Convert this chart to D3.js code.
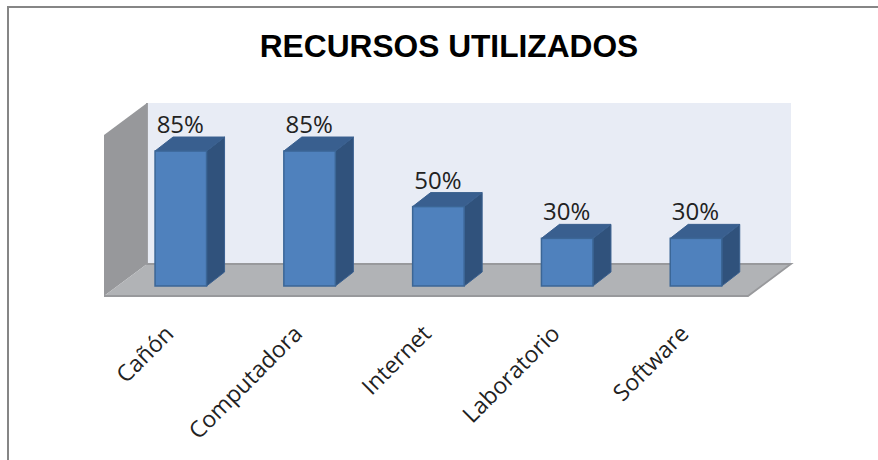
<!DOCTYPE html>
<html>
<head>
<meta charset="utf-8">
<script src="https://cdn.jsdelivr.net/npm/d3@7"></script>
<style>
html,body{margin:0;padding:0;background:#fff;}
svg{display:block;}
</style>
</head>
<body>
<svg id="c" width="878" height="460"></svg>
<script>
const categories = ["Cañón","Computadora","Internet","Laboratorio","Software"];
const values = [85,85,50,30,30];
const valueLabels = ["85%","85%","50%","30%","30%"];
const chartTitle = "RECURSOS UTILIZADOS";

const svg = d3.select("#c");
const W = 878, H = 460;
const depthX = 43, depthY = 32;        // full depth of the floor
const barDX = 18, barDY = 14;          // depth of a bar
const floorFrontY = 296, floorLeft = 104, floorRight = 748;

const x = d3.scaleBand().domain(categories).range([floorLeft+12.4, floorRight+12.4]).paddingInner(0.6).paddingOuter(0.3);
const y = d3.scaleLinear().domain([0,100]).range([286,127.2]);
const poly = (pts) => d3.line()(pts) + "Z";

// frame
svg.append("path").attr("d", d3.line()([[8,H],[8,7],[W,7]]))
  .attr("fill","none").attr("stroke","#868686").attr("stroke-width",2);

// back wall
svg.append("rect").attr("x",floorLeft+depthX).attr("y",103)
  .attr("width",floorRight-floorLeft).attr("height",floorFrontY-depthY-103)
  .attr("fill","#e8ecf5");

// left wall
svg.append("path").attr("d",poly([[floorLeft,135],[floorLeft+depthX,103],[floorLeft+depthX,floorFrontY-depthY],[floorLeft,floorFrontY]]))
  .attr("fill", "#97989b");

// floor
svg.append("path").attr("d",poly([[floorLeft,floorFrontY],[floorLeft+depthX,floorFrontY-depthY],[floorRight+depthX,floorFrontY-depthY],[floorRight,floorFrontY]]))
  .attr("fill","#b1b3b6");
svg.append("path").attr("d",d3.line()([[floorLeft+depthX,103],[floorLeft+depthX,floorFrontY-depthY],[floorRight+depthX,floorFrontY-depthY],[floorRight,floorFrontY],[floorLeft,floorFrontY]]))
  .attr("fill","none").attr("stroke","#98999c").attr("stroke-width",1.8);

// bars
const g = svg.selectAll("g.bar").data(categories.map((c,i)=>({c,v:values[i],l:valueLabels[i]}))).enter().append("g").attr("class","bar");
const bw = x.bandwidth();
g.append("path").attr("d",d=>{const a=x(d.c)+bw,t=y(d.v),b=y(0);
    return poly([[a,t],[a+barDX,t-barDY],[a+barDX,b-barDY],[a,b]]);})
  .attr("fill","#30527c").attr("stroke","#3a608f").attr("stroke-width",1);
g.append("path").attr("d",d=>{const a=x(d.c),t=y(d.v);
    return poly([[a,t],[a+barDX,t-barDY],[a+bw+barDX,t-barDY],[a+bw,t]]);})
  .attr("fill","#395f8f").attr("stroke","#3a608f").attr("stroke-width",1);
g.append("rect").attr("x",d=>x(d.c)).attr("y",d=>y(d.v)).attr("width",bw).attr("height",d=>y(0)-y(d.v))
  .attr("fill","#4f81bd").attr("stroke","#3b6696").attr("stroke-width",1.5);

// data labels
g.append("text").attr("x",d=>x(d.c)+bw/2-0.5).attr("y",d=>y(d.v)-18)
  .attr("text-anchor","middle").attr("font-family","'Open Sans'").attr("font-size",24)
  .attr("fill","#222").text(d=>d.l);

// category labels
g.append("text").attr("transform",d=>`translate(${x(d.c)+bw/2-20},321) rotate(-45)`)
  .attr("text-anchor","end").attr("dominant-baseline","hanging").attr("font-family","'Open Sans'").attr("font-size",23)
  .attr("fill","#222").text(d=>d.c);

// title
svg.append("text").attr("x",449).attr("y",57).attr("text-anchor","middle")
  .attr("font-family","'Liberation Sans'").attr("font-weight","bold").attr("font-size",31.7)
  .attr("fill","#000").text(chartTitle);
</script>
</body>
</html>
